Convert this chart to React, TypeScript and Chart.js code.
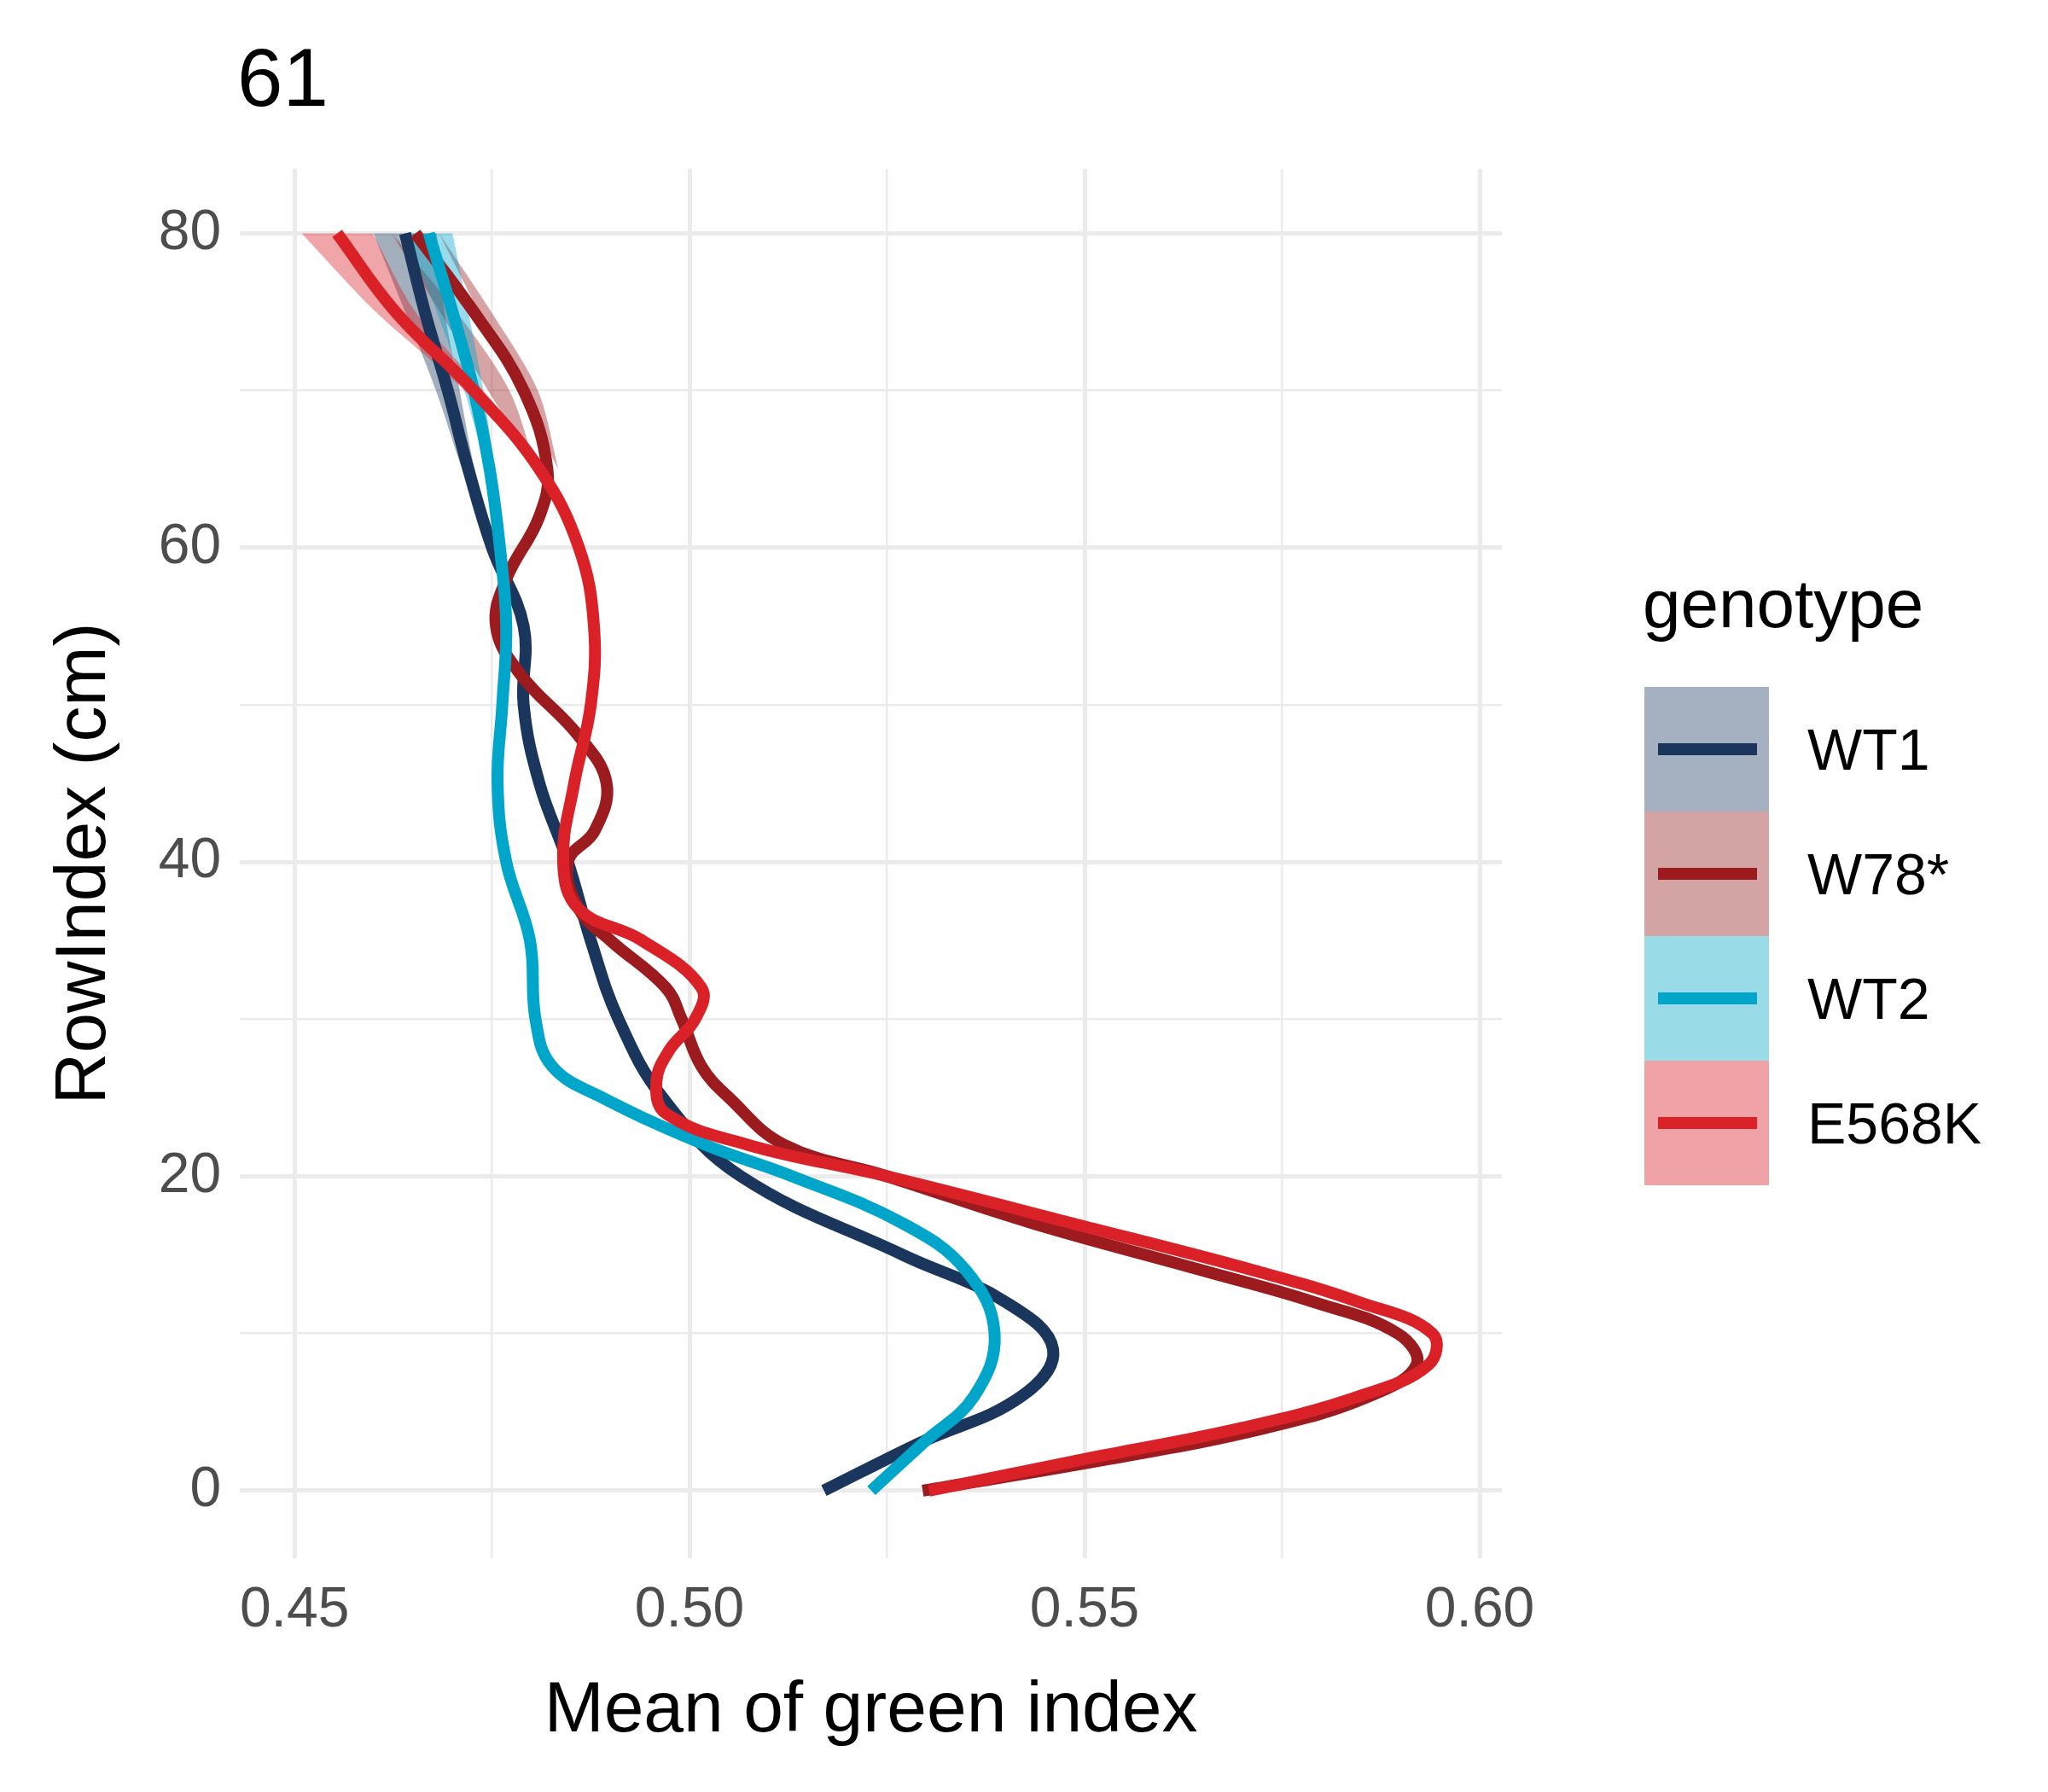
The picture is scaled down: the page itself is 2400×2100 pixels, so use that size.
import React, { useEffect, useRef } from "react";
import { Chart, registerables } from "chart.js";
Chart.register(...registerables);

const rows = [80, 75, 70, 65, 60, 55, 50, 45, 40, 35, 30, 25, 20, 15, 12, 9, 6, 3, 0];
const wt1 = [0.464, 0.4665, 0.4694, 0.472, 0.475, 0.479, 0.479, 0.481, 0.4846, 0.4875, 0.491, 0.4966, 0.5065, 0.527, 0.54, 0.546, 0.542, 0.529, 0.517];
const wt2Rows = [80, 75, 70, 65, 60, 55, 50, 45, 40, 35, 30, 27, 25, 22, 20, 17, 14, 10, 6, 3, 0];
const wt2 = [0.467, 0.47, 0.4727, 0.4747, 0.476, 0.4768, 0.4763, 0.4757, 0.4768, 0.4798, 0.4805, 0.4826, 0.489, 0.502, 0.513, 0.527, 0.535, 0.5386, 0.536, 0.5295, 0.523];
const w78Rows = [80, 75, 70, 65, 62, 58, 55, 52, 48, 45, 42, 40, 37, 35, 32, 30, 27, 25, 22, 20, 17, 14, 12, 10, 8, 6, 4, 2, 0];
const w78 = [0.4653, 0.4727, 0.479, 0.482, 0.481, 0.4768, 0.4755, 0.4785, 0.486, 0.4895, 0.488, 0.4846, 0.486, 0.49, 0.497, 0.499, 0.5015, 0.505, 0.512, 0.525, 0.5435, 0.565, 0.579, 0.5896, 0.592, 0.586, 0.573, 0.553, 0.5295];
const eRows = [80, 75, 70, 65, 60, 55, 50, 45, 40, 37, 35, 32, 30, 28, 26, 24, 22, 20, 17, 14, 12, 10, 8, 6, 4, 2, 0];
const e568k = [0.4554, 0.4628, 0.4727, 0.481, 0.486, 0.4879, 0.4875, 0.4854, 0.484, 0.486, 0.494, 0.5015, 0.5007, 0.4974, 0.4958, 0.497, 0.5074, 0.525, 0.5485, 0.5715, 0.5847, 0.594, 0.5935, 0.5847, 0.57, 0.55, 0.5303];
// ribbon half-widths for the top rows (80,75,70,65,60)
const ribbonRows = [80, 75, 70, 65, 60];
const wt1Half = [0.004, 0.0025, 0.0015, 0.0008, 0.0004];
const w78Half = [0.003, 0.0022, 0.0018, 0.0014, 0.0008];
const wt2Half = [0.003, 0.002, 0.0012, 0.0006, 0.0003];
const eHalf = [0.0045, 0.0025, 0.0012, 0.0006, 0.0003];

const names = ["WT1", "W78*", "WT2", "E568K"];
const lineColors = ["#1B365D", "#9B1B1E", "#00A6CA", "#DA2128"];
const ribbonColors = ["rgba(27,54,93,0.4)", "rgba(155,27,30,0.4)", "rgba(0,166,202,0.4)", "rgba(218,33,40,0.4)"];
const legendBoxes = ["#A5B0C0", "#D4A3A4", "#9ADBE8", "#F0A3A6"];

const FONT = "'Liberation Sans', Arial, sans-serif";

function ribbon(rs: number[], xs: number[], half: number[], yAll: number[]) {
  const center = (r: number) => xs[yAll.indexOf(r)];
  const lo = rs.map((r, i) => ({ x: center(r) - half[i], y: r }));
  const hi = rs.map((r, i) => ({ x: center(r) + half[i], y: r })).reverse();
  return [...lo, ...hi];
}

export default function App() {
  const ref = useRef<HTMLCanvasElement>(null);
  useEffect(() => {
    const series = [
      [rows, wt1, wt1Half],
      [w78Rows, w78, w78Half],
      [wt2Rows, wt2, wt2Half],
      [eRows, e568k, eHalf],
    ] as [number[], number[], number[]][];
    const datasets: any[] = [];
    series.forEach(([r, x, h], i) => {
      datasets.push({
        data: ribbon(ribbonRows, x, h, r),
        showLine: true, fill: "shape", backgroundColor: ribbonColors[i],
        borderWidth: 0, pointRadius: 0, tension: 0.3, order: 20 - i,
      });
    });
    const lineOrder = [4, 3, 2, 1];
    series.forEach(([r, x], i) => {
      datasets.push({
        data: r.map((rr, k) => ({ x: x[k], y: rr })),
        showLine: true, fill: false, borderColor: lineColors[i],
        borderWidth: 14, pointRadius: 0, tension: 0.4, order: lineOrder[i],
        borderCapStyle: "butt",
      });
    });
    const chart = new Chart(ref.current!, {
      type: "scatter",
      data: { datasets },
      options: {
        animation: false, responsive: false,
        layout: { padding: { left: 45, right: 640, top: 198, bottom: 40 } },
        plugins: { legend: { display: false }, tooltip: { enabled: false } },
        scales: {
          x: {
            type: "linear", min: 0.4431, max: 0.6028,
            afterBuildTicks: (s: any) => {
              const t = [];
              for (let v = 0.45; v <= 0.6001; v += 0.025) t.push({ value: Math.round(v * 1000) / 1000 });
              s.ticks = t;
            },
            border: { display: false },
            grid: { color: "#EBEBEB", lineWidth: (c: any) => (Math.abs((c.tick?.value * 1000) % 50) < 1 ? 5 : 2.5), drawTicks: false },
            ticks: {
              color: "#4D4D4D", font: { size: 66, family: FONT }, padding: 22,
              callback: (v: any) => (Math.abs((v * 1000) % 50) < 1 ? Number(v).toFixed(2) : ""),
            },
            title: { display: true, text: "Mean of green index", color: "#000", font: { size: 84, family: FONT }, padding: { top: 6 } },
          },
          y: {
            type: "linear", min: -4.3, max: 84.1,
            afterBuildTicks: (s: any) => {
              s.ticks = [0, 10, 20, 30, 40, 50, 60, 70, 80].map((v) => ({ value: v }));
            },
            border: { display: false },
            grid: { color: "#EBEBEB", lineWidth: (c: any) => (c.tick?.value % 20 === 0 ? 5 : 2.5), drawTicks: false },
            ticks: {
              color: "#4D4D4D", font: { size: 66, family: FONT }, padding: 22,
              callback: (v: any) => (v % 20 === 0 ? String(v) : ""),
            },
            title: { display: true, text: "RowIndex (cm)", color: "#000", font: { size: 84, family: FONT }, padding: { bottom: 14 } },
          },
        },
      },
    });
    return () => chart.destroy();
  }, []);

  const legendTop = 805;
  return (
    <div style={{ position: "fixed", left: 0, top: 0, width: 2400, height: 2100, background: "#fff", fontFamily: FONT }}>
      <canvas ref={ref} width={2400} height={2100} style={{ position: "absolute", left: 0, top: 0 }} />
      <div style={{ position: "absolute", left: 278, top: 36, fontSize: 96, color: "#000" }}>61</div>
      <div style={{ position: "absolute", left: 1925, top: 662, fontSize: 80, color: "#000" }}>genotype</div>
      {names.map((n, i) => (
        <div key={n}>
          <div style={{ position: "absolute", left: 1927, top: legendTop + i * 146, width: 146, height: 146, background: legendBoxes[i] }} />
          <div style={{ position: "absolute", left: 1943, top: legendTop + i * 146 + 66, width: 116, height: 14, background: lineColors[i] }} />
          <div style={{ position: "absolute", left: 2118, top: legendTop + i * 146 + 34, fontSize: 68, color: "#000", lineHeight: "78px" }}>{n}</div>
        </div>
      ))}
    </div>
  );
}
